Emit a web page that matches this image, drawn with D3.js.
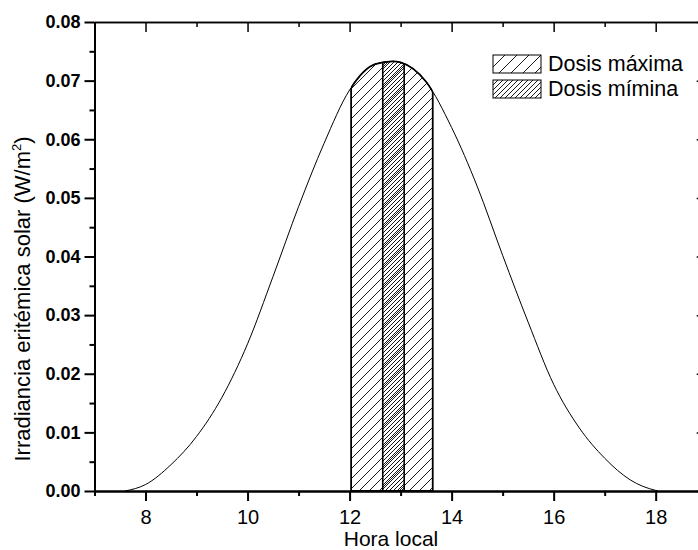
<!DOCTYPE html>
<html>
<head>
  <meta charset="utf-8">
  <style>
    body { margin: 0; background: #fff; }
    svg { display: block; background: #fff; }
    text { font-family: "Liberation Sans", Arial, sans-serif; fill: #000; }
  </style>
</head>
<body>
  <div id="chart"></div>
  <script src="https://cdn.jsdelivr.net/npm/d3@7"></script>
  <script>
    // curve (hour, W/m2)
    const hours = [7.6, 8, 8.5, 9, 9.5, 10, 10.5, 11, 11.5, 12, 12.5, 12.85, 13, 13.5, 14, 14.5, 15, 15.5, 16, 16.5, 17, 17.5, 18, 18.05];
    const irradiance = [0, 0.0011, 0.0045, 0.0093, 0.0160, 0.0251, 0.0366, 0.0485, 0.0593, 0.0684, 0.0728, 0.0733, 0.0731, 0.0698, 0.0620, 0.0520, 0.0402, 0.0288, 0.0182, 0.0108, 0.0056, 0.0019, 0.0001, 0];

    // shaded intervals
    const doseMax = [12.03, 13.63];
    const doseMin = [12.65, 13.07];
    const legendLabels = ["Dosis máxima", "Dosis mímina"];

    const xMajor = [8, 10, 12, 14, 16, 18];
    const xMinor = [7, 9, 11, 13, 15, 17, 19];
    const yMajor = [0, 0.01, 0.02, 0.03, 0.04, 0.05, 0.06, 0.07, 0.08];
    const yMinor = [0.005, 0.015, 0.025, 0.035, 0.045, 0.055, 0.065, 0.075];

    const W = 698, H = 550;
    const x = d3.scaleLinear().domain([7, 19]).range([94.5, 706.7]);
    const y = d3.scaleLinear().domain([0, 0.08]).range([491, 22]);

    const svg = d3.select("#chart").append("svg")
        .attr("width", W)
        .attr("height", H);

    const defs = svg.append("defs");

    function hatch(id, s) {
      const p = defs.append("pattern")
          .attr("id", id)
          .attr("patternUnits", "userSpaceOnUse")
          .attr("width", s)
          .attr("height", s);
      p.append("path")
          .attr("d", `M0,${s} L${s},0 M${-s/2},${s/2} L${s/2},${-s/2} M${s/2},${s*1.5} L${s*1.5},${s/2}`)
          .attr("stroke", "#000")
          .attr("stroke-width", 0.9)
          .attr("fill", "none");
    }
    hatch("hMax", 10);
    hatch("hMin", 4);
    hatch("hMaxLeg", 12);
    hatch("hMinLeg", 5);

    const pts = hours.map((h, i) => [h, irradiance[i]]);

    const area = d3.area()
        .x(d => x(d[0]))
        .y0(y(0))
        .y1(d => y(d[1]))
        .curve(d3.curveMonotoneX);

    const line = d3.line()
        .x(d => x(d[0]))
        .y(d => y(d[1]))
        .curve(d3.curveMonotoneX);

    defs.append("clipPath").attr("id", "under")
        .append("path").attr("d", area(pts));
    defs.append("clipPath").attr("id", "band")
        .append("rect")
        .attr("x", x(doseMax[0]))
        .attr("y", 0)
        .attr("width", x(doseMax[1]) - x(doseMax[0]))
        .attr("height", H);

    const shade = svg.append("g").attr("clip-path", "url(#under)");

    shade.append("rect")
        .attr("x", x(doseMax[0]))
        .attr("y", y(0.08))
        .attr("width", x(doseMax[1]) - x(doseMax[0]))
        .attr("height", y(0) - y(0.08))
        .attr("fill", "url(#hMax)")
        .attr("stroke", "#000")
        .attr("stroke-width", 1.8);

    shade.append("rect")
        .attr("x", x(doseMin[0]))
        .attr("y", y(0.08))
        .attr("width", x(doseMin[1]) - x(doseMin[0]))
        .attr("height", y(0) - y(0.08))
        .attr("fill", "url(#hMin)")
        .attr("stroke", "#000")
        .attr("stroke-width", 1.6);

    svg.append("path")
        .attr("d", line(pts))
        .attr("fill", "none")
        .attr("stroke", "#000")
        .attr("stroke-width", 1);

    // thicker outline on top of the shaded band
    svg.append("path")
        .attr("d", line(pts))
        .attr("clip-path", "url(#band)")
        .attr("fill", "none")
        .attr("stroke", "#000")
        .attr("stroke-width", 1.8);

    // axes
    function styleAxis(g, w) {
      g.select(".domain").attr("stroke-width", w);
      g.selectAll(".tick line").attr("stroke-width", w);
    }

    const yL = svg.append("g")
        .attr("transform", `translate(${x(7)},0)`)
        .call(d3.axisLeft(y).tickValues(yMajor).tickSize(10).tickSizeOuter(0).tickPadding(4).tickFormat(d3.format(".2f")));
    yL.selectAll("text").attr("font-size", 18).attr("font-weight", "bold").attr("font-family", null);
    styleAxis(yL, 2);
    const yLm = svg.append("g")
        .attr("transform", `translate(${x(7)},0)`)
        .call(d3.axisLeft(y).tickValues(yMinor).tickSize(5).tickSizeOuter(0).tickFormat(""));
    styleAxis(yLm, 2);

    const yR = svg.append("g")
        .attr("transform", `translate(${x(19)},0)`)
        .call(d3.axisRight(y).tickValues(yMajor).tickSize(-10).tickSizeOuter(0).tickFormat(""));
    styleAxis(yR, 1.5);
    const yRm = svg.append("g")
        .attr("transform", `translate(${x(19)},0)`)
        .call(d3.axisRight(y).tickValues(yMinor).tickSize(-5).tickSizeOuter(0).tickFormat(""));
    styleAxis(yRm, 1.5);

    const xB = svg.append("g")
        .attr("transform", `translate(0,${y(0)})`)
        .call(d3.axisBottom(x).tickValues(xMajor).tickSize(10).tickSizeOuter(0).tickPadding(9));
    xB.selectAll("text").attr("font-size", 20).attr("font-family", null);
    styleAxis(xB, 2);
    const xBm = svg.append("g")
        .attr("transform", `translate(0,${y(0)})`)
        .call(d3.axisBottom(x).tickValues(xMinor).tickSize(5).tickSizeOuter(0).tickFormat(""));
    styleAxis(xBm, 2);

    const xT = svg.append("g")
        .attr("transform", `translate(0,${y(0.08)})`)
        .call(d3.axisTop(x).tickValues(xMajor).tickSize(-10).tickSizeOuter(0).tickFormat(""));
    styleAxis(xT, 1.5);
    const xTm = svg.append("g")
        .attr("transform", `translate(0,${y(0.08)})`)
        .call(d3.axisTop(x).tickValues(xMinor).tickSize(-5).tickSizeOuter(0).tickFormat(""));
    styleAxis(xTm, 1.5);

    // titles
    svg.append("text")
        .attr("x", 391)
        .attr("y", 546)
        .attr("text-anchor", "middle")
        .attr("font-size", 21)
        .text("Hora local");

    const yt = svg.append("text")
        .attr("transform", "translate(30,299) rotate(-90)")
        .attr("text-anchor", "middle")
        .attr("font-size", 22);
    yt.append("tspan").text("Irradiancia eritémica solar (W/m");
    yt.append("tspan").attr("font-size", 13).attr("dy", -9).text("2");
    yt.append("tspan").attr("dy", 9).text(")");

    // legend
    const leg = svg.append("g").attr("transform", "translate(493,55)");
    const fills = ["url(#hMaxLeg)", "url(#hMinLeg)"];
    legendLabels.forEach((lab, i) => {
      leg.append("rect")
          .attr("x", 0)
          .attr("y", i * 25)
          .attr("width", 48)
          .attr("height", 18)
          .attr("fill", fills[i])
          .attr("stroke", "#000")
          .attr("stroke-width", 1);
      leg.append("text")
          .attr("x", 55)
          .attr("y", i * 25 + 16)
          .attr("font-size", 21.5)
          .text(lab);
    });
  </script>
</body>
</html>
